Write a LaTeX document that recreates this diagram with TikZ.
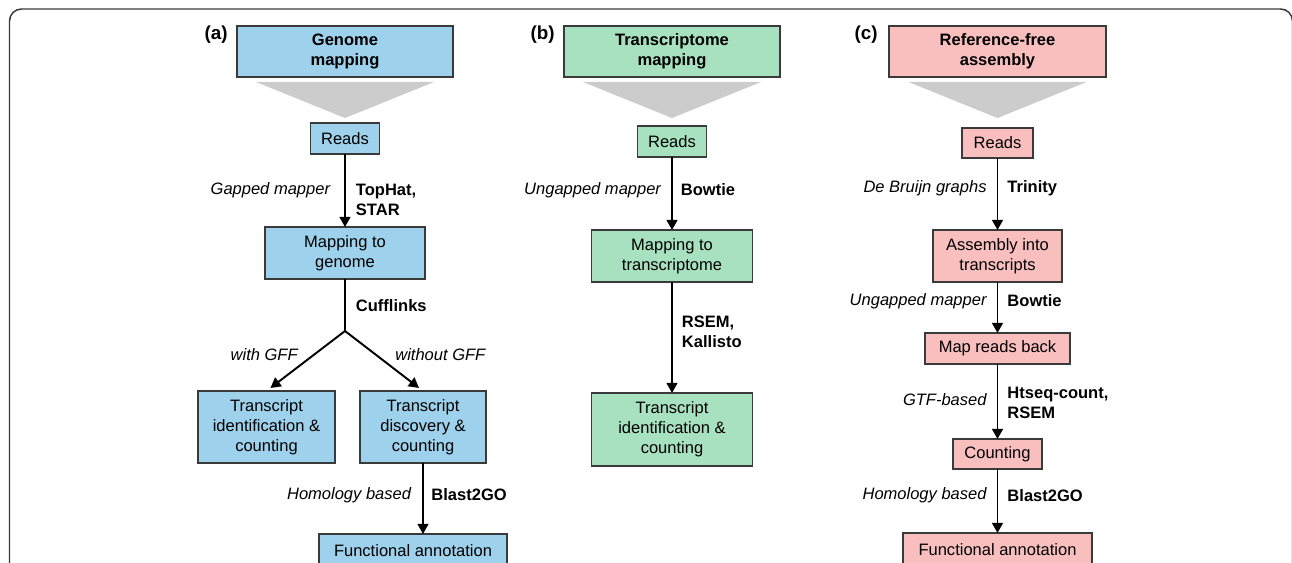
\documentclass[tikz,border=0pt]{standalone}
\usepackage{fontspec}
\setmainfont{Liberation Sans}
\usepackage{xcolor}
\definecolor{lineDark}{HTML}{3A3A3A}
\definecolor{genomeColor}{HTML}{9ED1EB}
\definecolor{transColor}{HTML}{A7E1BF}
\definecolor{assemblyColor}{HTML}{F9BFBF}
\definecolor{funnelColor}{HTML}{CCCCCC}
\usepackage{tikz}
\usetikzlibrary{positioning,calc,arrows.meta}
\tikzset{
  genomeBox/.style={
    rectangle,
    draw=lineDark,
    line width=0.65pt,
    fill=genomeColor,
    inner sep=0pt,
    outer sep=0pt,
    align=center,
    font=\fontsize{9.4}{11.4}\selectfont
 },
  transBox/.style={
    rectangle,
    draw=lineDark,
    line width=0.65pt,
    fill=transColor,
    inner sep=0pt,
    outer sep=0pt,
    align=center,
    font=\fontsize{9.4}{11.4}\selectfont
 },
  assemblyBox/.style={
    rectangle,
    draw=lineDark,
    line width=0.65pt,
    fill=assemblyColor,
    inner sep=0pt,
    outer sep=0pt,
    align=center,
    font=\fontsize{9.4}{11.4}\selectfont
 },
  headText/.style={
    font=\fontsize{9.4}{11.4}\selectfont\bfseries
 },
  panelText/.style={
    inner sep=0pt,
    font=\fontsize{10.7}{12}\selectfont\bfseries
 },
  methodText/.style={
    inner sep=0pt,
    align=right,
    font=\fontsize{9.4}{11.4}\selectfont\itshape
 },
  toolText/.style={
    inner sep=0pt,
    align=left,
    font=\fontsize{9.4}{11.4}\selectfont\bfseries
 },
  funnel/.style={
    fill=funnelColor,
    draw=none
 },
  arrowLine/.style={
    -{Triangle[length=5.8pt,width=6.2pt]},
    line width=1.1pt,
    color=black
 },
  plainLine/.style={
    line width=1.1pt,
    color=black
 },
  frameLine/.style={
    line width=0.85pt,
    draw=lineDark,
    rounded corners=0.24cm
 }
}

\begin{document}
\begin{tikzpicture}

            \clip (0,0) rectangle (25.84,-11.26);

            % outer frame, open at the bottom
            \draw[frameLine] (0.19,-11.8) |- (25.85,-0.18) -- (25.85,-11.8);

            % (a) Genome mapping
            \node[genomeBox, headText, minimum width=4.32cm, minimum height=1.02cm] (hdrA) at (6.9,-1.03) {Genome\\mapping};
            \node[panelText, left=0.18cm of hdrA.north west, anchor=north east] (tagA) {(a)};
            \fill[funnel] ($(hdrA.south)+(-1.78,-0.1)$) -- ($(hdrA.south)+(1.78,-0.1)$) -- ($(hdrA.south)+(0,-0.82)$) -- cycle;

            \node[genomeBox, minimum width=1.38cm, minimum height=0.62cm, below=0.92cm of hdrA] (readsA) {Reads};
            \node[genomeBox, minimum width=3.2cm, minimum height=1.04cm, below=1.46cm of readsA] (mapA) {Mapping to\\genome};
            \draw[arrowLine] (readsA) -- (mapA)
                node[methodText, pos=0.5, left=0.28cm] {Gapped mapper}
                node[toolText, pos=0.635, right=0.2cm] {TopHat,\\STAR};

            % Cufflinks splits in two
            \coordinate[below=1.04cm of mapA] (forkA);
            \draw[plainLine] (mapA) -- (forkA)
                node[toolText, pos=0.52, right=0.2cm] {Cufflinks};

            \node[genomeBox, minimum width=2.74cm, minimum height=1.44cm, below left=1.2cm and 0.2cm of forkA] (idA) {Transcript\\identification \&\\counting};
            \node[genomeBox, minimum width=2.52cm, minimum height=1.44cm, below right=1.2cm and 0.3cm of forkA] (discA) {Transcript\\discovery \&\\counting};
            \draw[arrowLine, shorten >=0.1cm] (forkA) -- (idA.north);
            \draw[arrowLine, shorten >=0.1cm] (forkA) -- (discA.north);
            \node[methodText, left=0.94cm of forkA, yshift=-0.48cm] (withA) {with GFF};
            \node[methodText, right=1.0cm of forkA, yshift=-0.48cm] (withoutA) {without GFF};

            \node[genomeBox, minimum width=3.76cm, minimum height=0.66cm, below=1.42cm of discA, xshift=-0.2cm] (funcA) {Functional annotation};
            \draw[arrowLine] (discA) -- (discA |- funcA.north)
                node[methodText, pos=0.45, left=0.22cm] {Homology based}
                node[toolText, pos=0.45, right=0.15cm] {Blast2GO};

            % (b) Transcriptome mapping
            \node[transBox, headText, minimum width=4.32cm, minimum height=1.02cm] (hdrB) at (13.44,-1.03) {Transcriptome\\mapping};
            \node[panelText, left=0.18cm of hdrB.north west, anchor=north east] (tagB) {(b)};
            \fill[funnel] ($(hdrB.south)+(-1.78,-0.1)$) -- ($(hdrB.south)+(1.78,-0.1)$) -- ($(hdrB.south)+(0,-0.82)$) -- cycle;

            \node[transBox, minimum width=1.38cm, minimum height=0.62cm, below=0.98cm of hdrB] (readsB) {Reads};
            \node[transBox, minimum width=3.22cm, minimum height=1.04cm, below=1.46cm of readsB] (mapB) {Mapping to\\transcriptome};
            \draw[arrowLine] (readsB) -- (mapB)
                node[methodText, pos=0.45, left=0.2cm] {Ungapped mapper}
                node[toolText, pos=0.45, right=0.16cm] {Bowtie};

            \node[transBox, minimum width=3.22cm, minimum height=1.46cm, below=2.22cm of mapB] (idB) {Transcript\\identification \&\\counting};
            \draw[arrowLine] (mapB) -- (idB)
                node[toolText, pos=0.45, right=0.18cm] {RSEM,\\Kallisto};

            % (c) Reference-free assembly
            \node[assemblyBox, headText, minimum width=4.34cm, minimum height=1.02cm] (hdrC) at (19.95,-1.03) {Reference-free\\assembly};
            \node[panelText, left=0.22cm of hdrC.north west, anchor=north east] (tagC) {(c)};
            \fill[funnel] ($(hdrC.south)+(-1.78,-0.1)$) -- ($(hdrC.south)+(1.78,-0.1)$) -- ($(hdrC.south)+(0,-0.82)$) -- cycle;

            \node[assemblyBox, minimum width=1.42cm, minimum height=0.6cm, below=1.02cm of hdrC] (readsC) {Reads};
            \node[assemblyBox, minimum width=2.58cm, minimum height=1.04cm, below=1.44cm of readsC] (asmC) {Assembly into\\transcripts};
            \draw[arrowLine] (readsC) -- (asmC)
                node[methodText, pos=0.42, left=0.2cm] {De Bruijn graphs}
                node[toolText, pos=0.42, right=0.18cm] {Trinity};

            \node[assemblyBox, minimum width=2.9cm, minimum height=0.62cm, below=1.02cm of asmC] (mapRC) {Map reads back};
            \draw[arrowLine] (asmC) -- (mapRC)
                node[methodText, pos=0.37, left=0.2cm] {Ungapped mapper}
                node[toolText, pos=0.37, right=0.18cm] {Bowtie};

            \node[assemblyBox, minimum width=1.78cm, minimum height=0.6cm, below=1.5cm of mapRC] (cntC) {Counting};
            \draw[arrowLine] (mapRC) -- (cntC)
                node[methodText, pos=0.47, left=0.2cm] {GTF-based}
                node[toolText, pos=0.52, right=0.18cm] {Htseq-count,\\RSEM};

            \node[assemblyBox, minimum width=3.78cm, minimum height=0.66cm, below=1.28cm of cntC] (funcC) {Functional annotation};
            \draw[arrowLine] (cntC) -- (funcC)
                node[methodText, pos=0.41, left=0.2cm] {Homology based}
                node[toolText, pos=0.41, right=0.18cm] {Blast2GO};

        \end{tikzpicture}
\end{document}
